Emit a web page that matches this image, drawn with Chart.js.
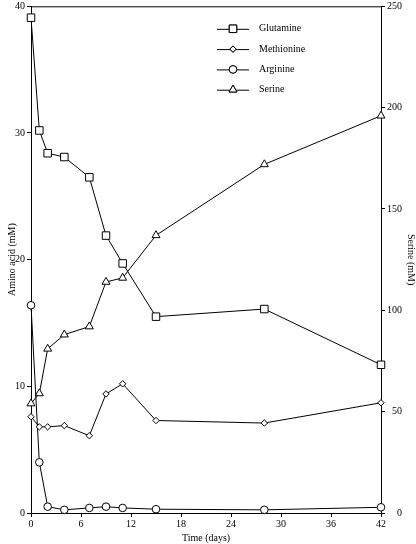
<!DOCTYPE html>
<html>
<head>
<meta charset="utf-8">
<script src="https://cdn.jsdelivr.net/npm/chart.js@4/dist/chart.umd.min.js"></script>
<style>
  html, body { margin: 0; padding: 0; background: #fff; }
  #wrap { width: 416px; height: 544px; }
</style>
</head>
<body>
<div id="wrap"><canvas id="c" width="416" height="544"></canvas></div>
<script>
// sampling days
const days = [0, 1, 2, 4, 7, 9, 11, 15, 28, 42];

// amino acids, mM (left axis)
const glutamine  = [39.1, 30.2, 28.4, 28.1, 26.5, 21.9, 19.7, 15.5, 16.1, 11.7];
const methionine = [7.6, 6.8, 6.8, 6.9, 6.1, 9.4, 10.2, 7.3, 7.1, 8.7];
const arginine   = [16.4, 4.0, 0.5, 0.25, 0.4, 0.5, 0.4, 0.3, 0.25, 0.45];

// serine, mM (right axis)
const serine = [54, 59, 81, 88, 92, 114, 116, 137, 172, 196];

const xTicks = [0, 6, 12, 18, 24, 30, 36, 42];
const leftTicks = [0, 10, 20, 30, 40];
const rightTicks = [0, 50, 100, 150, 200, 250];

const serif = "'Liberation Serif', 'DejaVu Serif', serif";

function pts(ys) {
    return days.map((d, i) => ({ x: d, y: ys[i] }));
}

function series(label, ys, style, radius, axis) {
    return {
        label: label,
        data: pts(ys),
        yAxisID: axis,
        borderColor: '#000',
        borderWidth: 1,
        backgroundColor: '#fff',
        pointStyle: style,
        pointRadius: radius,
        pointBorderWidth: 1,
        pointBorderColor: '#000',
        pointBackgroundColor: '#fff',
        tension: 0,
        clip: false
    };
}

// don't let tick labels push the plot box inwards
function noEdgePad(s) {
    s.paddingTop = 0;
    s.paddingBottom = 0;
    s.paddingLeft = 0;
    s.paddingRight = 0;
}

// box line across the top of the plot
const topFrame = {
    id: 'topFrame',
    afterDraw(chart) {
        const { ctx, chartArea } = chart;
        ctx.save();
        ctx.strokeStyle = '#000';
        ctx.lineWidth = 1;
        ctx.beginPath();
        ctx.moveTo(chartArea.left, chartArea.top + 0.5);
        ctx.lineTo(chartArea.right, chartArea.top + 0.5);
        ctx.stroke();
        ctx.restore();
    }
};

// legend with a short line through each marker
const lineLegend = {
    id: 'lineLegend',
    afterDraw(chart, args, opts) {
        const { ctx, chartArea } = chart;
        const x0 = chartArea.left + opts.offsetX;
        ctx.save();
        ctx.font = opts.font;
        ctx.textBaseline = 'middle';
        chart.data.datasets.forEach((ds, i) => {
            const y = chartArea.top + opts.offsetY + i * opts.rowGap;
            ctx.strokeStyle = '#000';
            ctx.lineWidth = 1;
            ctx.beginPath();
            ctx.moveTo(x0, y + 0.5);
            ctx.lineTo(x0 + opts.lineLen, y + 0.5);
            ctx.stroke();
            ctx.fillStyle = '#fff';
            Chart.helpers.drawPoint(ctx, {
                pointStyle: ds.pointStyle,
                radius: ds.pointRadius,
                borderWidth: 1
            }, x0 + opts.lineLen / 2, y);
            ctx.fill();
            ctx.stroke();
            ctx.fillStyle = '#000';
            ctx.fillText(ds.label, x0 + opts.lineLen + 10, y);
        });
        ctx.restore();
    }
};

const tickFont = { family: serif, size: 10 };
const titleFont = { family: serif, size: 10 };

new Chart(document.getElementById('c'), {
    type: 'line',
    data: {
        datasets: [
            series('Glutamine', glutamine, 'rect', 5.3, 'y'),
            series('Methionine', methionine, 'rectRot', 3.2, 'y'),
            series('Arginine', arginine, 'circle', 3.8, 'y'),
            series('Serine', serine, 'triangle', 4.6, 'y2')
        ]
    },
    options: {
        responsive: false,
        animation: false,
        devicePixelRatio: 1,
        layout: { padding: { top: 3, left: 0, right: 14, bottom: 0 } },
        plugins: {
            legend: { display: false },
            tooltip: { enabled: false },
            lineLegend: {
                offsetX: 186, offsetY: 22.5, rowGap: 20.3, lineLen: 32,
                font: "10px 'Liberation Serif', serif"
            }
        },
        scales: {
            x: {
                type: 'linear',
                min: 0, max: 42,
                afterBuildTicks: s => { s.ticks = xTicks.map(v => ({ value: v })); },
                afterFit: s => { s.height = 31; noEdgePad(s); },
                ticks: { color: '#000', font: tickFont, padding: 1, maxRotation: 0 },
                grid: { drawOnChartArea: false, tickLength: 4, color: '#000' },
                border: { color: '#000', width: 1 },
                title: { display: true, text: 'Time (days)', color: '#000', font: titleFont, padding: { top: 0, bottom: 0 } }
            },
            y: {
                position: 'left',
                min: 0, max: 40,
                afterBuildTicks: s => { s.ticks = leftTicks.map(v => ({ value: v })); },
                afterFit: s => { s.width = 31; noEdgePad(s); },
                ticks: { color: '#000', font: tickFont, padding: 2 },
                grid: { drawOnChartArea: false, tickLength: 4, color: '#000' },
                border: { color: '#000', width: 1 },
                title: { display: true, text: 'Amino acid (mM)', color: '#000', font: titleFont, padding: { top: 6, bottom: 0 } }
            },
            y2: {
                position: 'right',
                min: 0, max: 250,
                afterBuildTicks: s => { s.ticks = rightTicks.map(v => ({ value: v })); },
                afterFit: s => { s.width = 21; noEdgePad(s); },
                ticks: { color: '#000', font: tickFont, padding: 2, crossAlign: 'far' },
                grid: { drawOnChartArea: false, tickLength: 4, color: '#000' },
                border: { color: '#000', width: 1 },
                title: { display: true, text: 'Serine (mM)', color: '#000', font: titleFont, padding: { top: -14.5, bottom: 0 } }
            }
        }
    },
    plugins: [topFrame, lineLegend]
});
</script>
</body>
</html>
